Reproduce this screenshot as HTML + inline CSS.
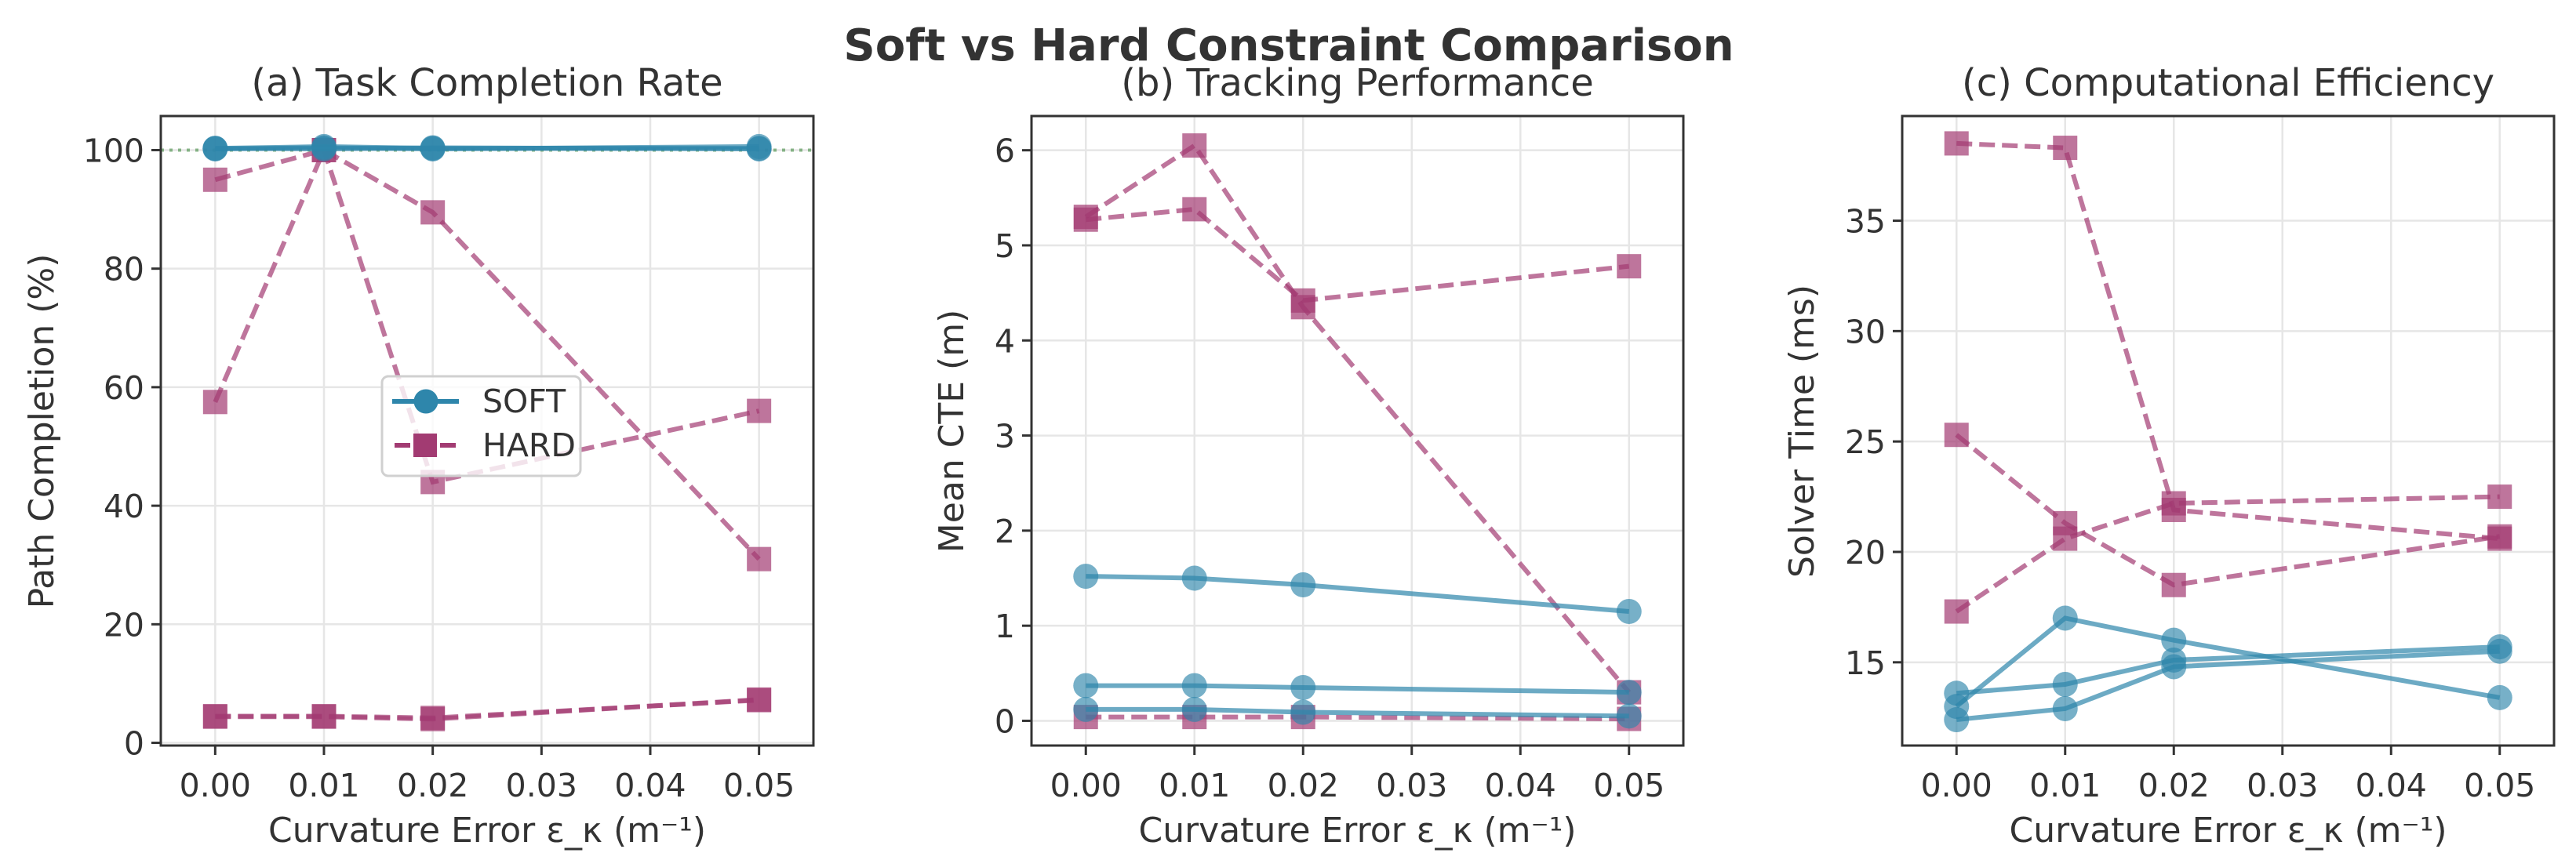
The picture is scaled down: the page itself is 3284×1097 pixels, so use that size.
<!DOCTYPE html>
<html><head><meta charset="utf-8"><style>
html,body{margin:0;padding:0;background:#fff;}
svg{display:block;font-family:"DejaVu Sans","Liberation Sans",sans-serif;}
</style></head><body>
<svg id="fig" width="3284" height="1097" viewBox="0 0 3284 1097" xmlns="http://www.w3.org/2000/svg">
<rect width="3284" height="1097" fill="#fff"/>
<text x="1643" y="77" text-anchor="middle" font-size="56" font-weight="bold" fill="#333">Soft vs Hard Constraint Comparison</text>
</svg>
<script>
const xCats=[0.00,0.01,0.02,0.05];
const xTicks=[0.00,0.01,0.02,0.03,0.04,0.05];
const xTickLabels=["0.00","0.01","0.02","0.03","0.04","0.05"];
// Panel a
const aSoft=[[100.3,100.6,100.3,100.3],[100.2,100.4,100.2,100.6],[100.3,100.2,100.4,100.2]];
const aHard=[[95,100,89.5,31],[57.5,100,44,56],[4.5,4.5,4.2,7.2],[4.4,4.4,4.0,7.3]];
const aTicks=[0,20,40,60,80,100];
// Panel b
const bSoft=[[1.52,1.50,1.43,1.15],[0.37,0.37,0.35,0.30],[0.12,0.12,0.09,0.05]];
const bHard=[[5.30,6.05,4.35,0.30],[5.27,5.38,4.42,4.78],[0.04,0.04,0.04,0.02]];
const bTicks=[0,1,2,3,4,5,6];
// Panel c
const cSoft=[[13.0,17.0,16.0,13.4],[13.6,14.0,15.1,15.7],[12.4,12.9,14.8,15.5]];
const cHard=[[38.5,38.3,21.9,20.6],[25.3,21.3,18.5,20.7],[17.3,20.6,22.2,22.5]];
const cTicks=[15,20,25,30,35];

const NS="http://www.w3.org/2000/svg";
const svg=document.getElementById('fig');
function mk(tag,attrs,parent){const e=document.createElementNS(NS,tag);for(const k in attrs)e.setAttribute(k,attrs[k]);(parent||svg).appendChild(e);return e;}
const SOFT="#2E86AB",HARD="#A23B72";

function panel(cfg){
  const g=mk('g',{});
  
  
  const L=cfg.left,R=cfg.right,T=148,B=951;
  const sx=v=>L+(v-(-0.005))/(0.06)*(R-L);
  const sy=v=>B-(v-cfg.ymin)/(cfg.ymax-cfg.ymin)*(B-T);
  xTicks.forEach((t,i)=>{
    const l=mk('line',{x1:sx(t),x2:sx(t),y1:T,y2:B,stroke:"#e6e6e6","stroke-width":2.5},g);
    
    
  });
  cfg.ticks.forEach(t=>{
    const l=mk('line',{x1:L,x2:R,y1:sy(t),y2:sy(t),stroke:"#e6e6e6","stroke-width":2.5},g);
    
    
  });
  if(cfg.ref!==undefined){
    const l=mk('line',{x1:L,x2:R,y1:sy(cfg.ref),y2:sy(cfg.ref),stroke:"#5a9a5a","stroke-width":4,"stroke-dasharray":"4 7","opacity":0.7},g);
    
    
  }
  function draw(series,color,isHard){
    series.forEach(vals=>{
      const pts=vals.map((v,i)=>sx(xCats[i])+","+sy(v)).join(" ");
      const pl=mk('polyline',{points:pts,fill:"none",stroke:color,"stroke-width":6,"stroke-opacity":0.7,"stroke-dasharray":isHard?"20 9":"none"},g);
      
      
      vals.forEach((v,i)=>{
        let m;
        if(isHard){m=mk('rect',{x:sx(xCats[i])-15.5,y:sy(v)-15.5,width:31,height:31,fill:color,"fill-opacity":0.7},g);
          }
        else{m=mk('circle',{cx:sx(xCats[i]),cy:sy(v),r:16,fill:color,"fill-opacity":0.65},g);
          }
        
      });
    });
  }
  draw(cfg.hard,HARD,true);
  draw(cfg.soft,SOFT,false);
  const sp=mk('rect',{x:L,y:T,width:R-L,height:B-T,fill:"none",stroke:"#333","stroke-width":3},g);
  
  
  xTicks.forEach((t,i)=>{
    mk('line',{x1:sx(t),x2:sx(t),y1:B,y2:B+12,stroke:"#333","stroke-width":3},g);
    const tx=mk('text',{x:sx(t),y:1016,"text-anchor":"middle","font-size":41,fill:"#333"},g);
    tx.textContent=xTickLabels[i];
    
    
  });
  cfg.ticks.forEach(t=>{
    mk('line',{x1:L-12,x2:L,y1:sy(t),y2:sy(t),stroke:"#333","stroke-width":3},g);
    const tx=mk('text',{x:L-21,y:sy(t)+15,"text-anchor":"end","font-size":41,fill:"#333"},g);
    tx.textContent=String(t);
    
    
  });
  const ti=mk('text',{x:(L+R)/2,y:122,"text-anchor":"middle","font-size":48,fill:"#333"},g);
  ti.textContent=cfg.title;
  
  
  const xl=mk('text',{x:(L+R)/2,y:1074,"text-anchor":"middle","font-size":44,fill:"#333"},g);
  xl.textContent="Curvature Error ε_κ (m⁻¹)";
  
  
  const yl=mk('text',{x:0,y:0,"text-anchor":"middle","font-size":44,fill:"#333",transform:`translate(${cfg.ylx},550) rotate(-90)`},g);
  yl.textContent=cfg.ylabel;
  
  
}
panel({name:'panel-task-completion',left:205,right:1037,ymin:-0.46,ymax:105.75,ticks:aTicks,soft:aSoft,hard:aHard,ref:100,title:"(a) Task Completion Rate",ylabel:"Path Completion (%)",ylx:68});
panel({name:'panel-tracking',left:1315,right:2146,ymin:-0.26,ymax:6.36,ticks:bTicks,soft:bSoft,hard:bHard,title:"(b) Tracking Performance",ylabel:"Mean CTE (m)",ylx:1228});
panel({name:'panel-efficiency',left:2425,right:3256,ymin:11.23,ymax:39.74,ticks:cTicks,soft:cSoft,hard:cHard,title:"(c) Computational Efficiency",ylabel:"Solver Time (ms)",ylx:2312});

const lg=mk('g',{});


mk('rect',{x:487,y:480,width:253,height:127,rx:8,fill:"#fff","fill-opacity":0.8,stroke:"#d0d0d0","stroke-width":3},lg);
const e1=mk('g',{},lg);


mk('line',{x1:500,x2:585,y1:512,y2:512,stroke:SOFT,"stroke-width":6},e1);
mk('circle',{cx:543,cy:512,r:15.5,fill:SOFT},e1);
const t1=mk('text',{x:615,y:526,"font-size":41,fill:"#333"},e1);t1.textContent="SOFT";
const e2=mk('g',{},lg);


mk('line',{x1:503,x2:582,y1:568,y2:568,stroke:HARD,"stroke-width":6,"stroke-dasharray":"20 9"},e2);
mk('rect',{x:527,y:553,width:30,height:30,fill:HARD},e2);
const t2=mk('text',{x:615,y:582,"font-size":41,fill:"#333"},e2);t2.textContent="HARD";
</script>
</body></html>
